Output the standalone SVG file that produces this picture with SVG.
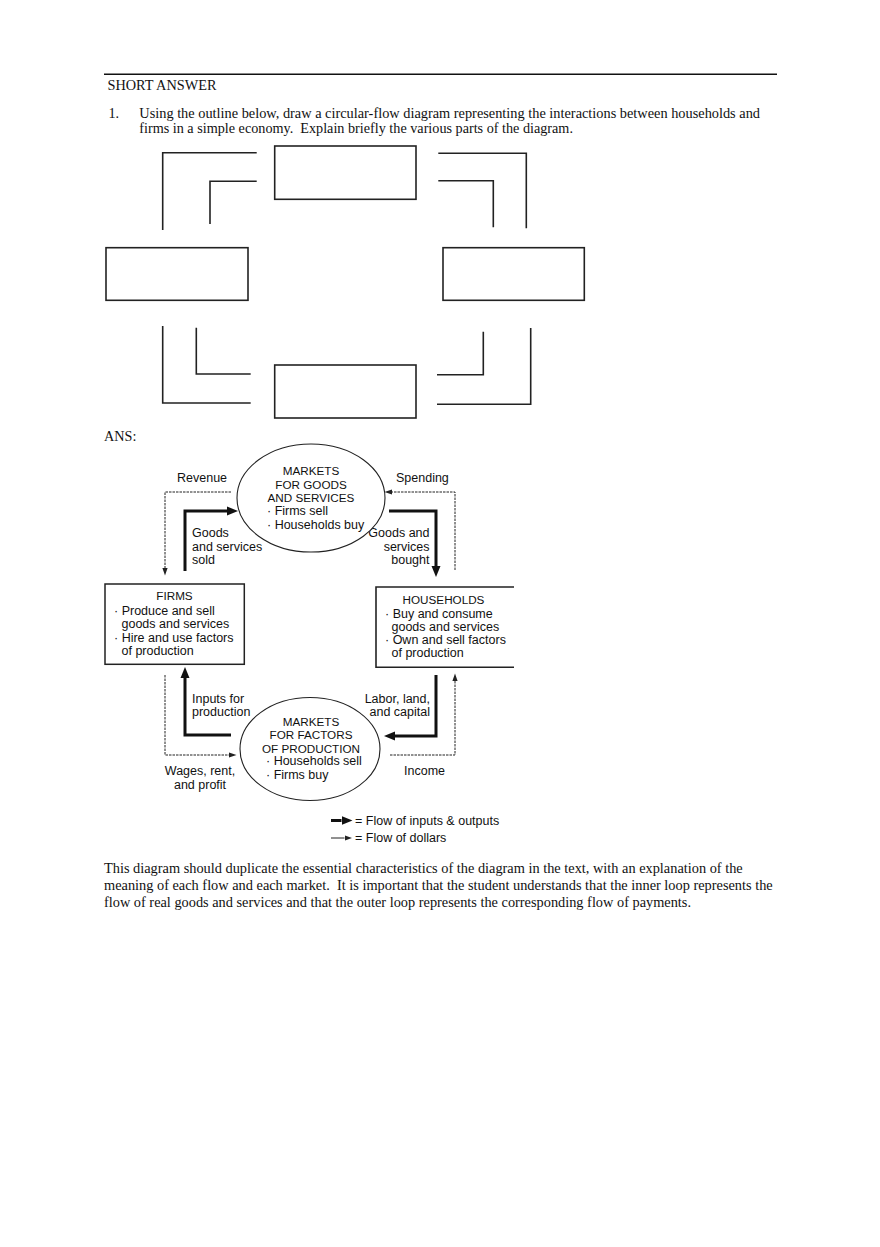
<svg xmlns="http://www.w3.org/2000/svg" width="880" height="1247" viewBox="0 0 880 1247">
<style>
.serif{font-family:"Liberation Serif","Times New Roman",serif;font-size:14.2px;fill:#111}
.sans{font-family:"Liberation Sans",Arial,sans-serif;font-size:12.5px;fill:#111}
.cap{font-size:11.7px}
.mid{text-anchor:middle}
.end{text-anchor:end}
.ol{fill:none;stroke:#222;stroke-width:1.6}
.box{fill:#fff;stroke:#222;stroke-width:1.5}
.ell{fill:#fff;stroke:#222;stroke-width:1.1}
.thick{fill:none;stroke:#111;stroke-width:3;marker-end:url(#ah)}
.thin{fill:none;stroke:#222;stroke-width:1;stroke-dasharray:2.5 1;marker-end:url(#al)}
</style>
<defs>
<marker id="ah" markerUnits="userSpaceOnUse" markerWidth="11" markerHeight="10" viewBox="0 -5 11 10" refX="0" refY="0" orient="auto">
<path d="M0,-4.5 L11,0 L0,4.5 z" fill="#111"/>
</marker>
<marker id="al" markerUnits="userSpaceOnUse" markerWidth="8" markerHeight="6" viewBox="0 -3 8 6" refX="0" refY="0" orient="auto">
<path d="M0,-2.6 L7.5,0 L0,2.6 z" fill="#222"/>
</marker>
</defs>
<rect width="880" height="1247" fill="#fff"/>

<g id="header">
<line x1="104" y1="74.3" x2="777" y2="74.3" stroke="#111" stroke-width="1.6"/>
<text class="serif" x="107.5" y="90" textLength="109" lengthAdjust="spacingAndGlyphs">SHORT ANSWER</text>
<text class="serif" x="108.5" y="118">1.</text>
<text class="serif" x="139.3" y="118" textLength="620.7" lengthAdjust="spacingAndGlyphs">Using the outline below, draw a circular-flow diagram representing the interactions between households and</text>
<text class="serif" x="139.3" y="133" xml:space="preserve">firms in a simple economy.  Explain briefly the various parts of the diagram.</text>
</g>

<g id="outline">
<rect class="ol" x="274.7" y="146" width="141.3" height="53.3"/>
<rect class="ol" x="106" y="247.7" width="142" height="52.6"/>
<rect class="ol" x="443" y="247.7" width="141.3" height="52.6"/>
<rect class="ol" x="274.7" y="365" width="141.3" height="53"/>
<path class="ol" d="M162.7,230 V152.7 H256.7"/>
<path class="ol" d="M210,224 V181.3 H256.7"/>
<path class="ol" d="M438.3,153.3 H526.3 V228.3"/>
<path class="ol" d="M438.3,180.7 H493.3 V227.3"/>
<path class="ol" d="M162.7,326 V403 H250.7"/>
<path class="ol" d="M196.3,327.7 V374 H250.7"/>
<path class="ol" d="M437,374.7 H483.3 V331.7"/>
<path class="ol" d="M437,404.3 H530.7 V328"/>
</g>

<text class="serif" x="104" y="440.5">ANS:</text>

<g id="connectors">
<path class="thick" d="M185,571 V511 H227"/>
<path class="thick" d="M389,511 H436 V566"/>
<path class="thick" d="M436,675 V736 H395"/>
<path class="thick" d="M231,735 H185 V678"/>
<path class="thin" d="M231,492 H165 V568"/>
<path class="thin" d="M455,570 V492 H392"/>
<path class="thin" d="M165,675 V755 H229"/>
<path class="thin" d="M390,755 H455 V681"/>
</g>

<g id="flow-labels">
<text class="sans" x="177" y="482">Revenue</text>
<text class="sans" x="396" y="482">Spending</text>
<text class="sans" x="192" y="537">Goods</text>
<text class="sans" x="192" y="550.5">and services</text>
<text class="sans" x="192" y="564">sold</text>
<text class="sans end" x="429.5" y="537">Goods and</text>
<text class="sans end" x="429.5" y="550.5">services</text>
<text class="sans end" x="429.5" y="564">bought</text>
<text class="sans" x="192" y="703">Inputs for</text>
<text class="sans" x="192" y="716">production</text>
<text class="sans end" x="430" y="703">Labor, land,</text>
<text class="sans end" x="430" y="716">and capital</text>
<text class="sans mid" x="200" y="775">Wages, rent,</text>
<text class="sans mid" x="200" y="788.5">and profit</text>
<text class="sans" x="404" y="775">Income</text>
</g>

<g id="market-goods">
<ellipse class="ell" cx="311" cy="498" rx="74" ry="54"/>
<text class="sans cap mid" x="311" y="475">MARKETS</text>
<text class="sans cap mid" x="311" y="488.5">FOR GOODS</text>
<text class="sans cap mid" x="311" y="502">AND SERVICES</text>
<text class="sans" x="267" y="515">· Firms sell</text>
<text class="sans" x="267" y="528.5">· Households buy</text>
</g>

<g id="firms">
<rect class="box" x="105" y="584" width="139.3" height="80.3"/>
<text class="sans cap mid" x="174.5" y="600">FIRMS</text>
<text class="sans" x="114" y="615">· Produce and sell</text>
<text class="sans" x="121.5" y="628.3">goods and services</text>
<text class="sans" x="114" y="641.6">· Hire and use factors</text>
<text class="sans" x="121.5" y="655">of production</text>
</g>

<g id="households">
<path d="M514,587 H376 V667.3 H514" fill="#fff" stroke="#222" stroke-width="1.6"/>
<text class="sans cap mid" x="443.5" y="604">HOUSEHOLDS</text>
<text class="sans" x="385" y="617.5">· Buy and consume</text>
<text class="sans" x="391.5" y="630.8">goods and services</text>
<text class="sans" x="385" y="644">· Own and sell factors</text>
<text class="sans" x="391.5" y="657.3">of production</text>
</g>

<g id="market-factors">
<ellipse class="ell" cx="310" cy="749" rx="70" ry="51.5"/>
<text class="sans cap mid" x="311" y="726">MARKETS</text>
<text class="sans cap mid" x="311" y="739.3">FOR FACTORS</text>
<text class="sans cap mid" x="311" y="752.6">OF PRODUCTION</text>
<text class="sans" x="266" y="765">· Households sell</text>
<text class="sans" x="266" y="778.5">· Firms buy</text>
</g>

<g id="legend">
<path d="M331,820.5 H341.5" fill="none" stroke="#111" stroke-width="3" marker-end="url(#ah)"/>
<text class="sans" x="355" y="824.5">= Flow of inputs &amp; outputs</text>
<path d="M331,838 H344.5" fill="none" stroke="#222" stroke-width="1" marker-end="url(#al)"/>
<text class="sans" x="355" y="842">= Flow of dollars</text>
</g>

<g id="explanation">
<text class="serif" x="104" y="873.3" textLength="638.7" lengthAdjust="spacingAndGlyphs">This diagram should duplicate the essential characteristics of the diagram in the text, with an explanation of the</text>
<text class="serif" x="104" y="890" textLength="668.7" lengthAdjust="spacingAndGlyphs" xml:space="preserve">meaning of each flow and each market.  It is important that the student understands that the inner loop represents the</text>
<text class="serif" x="104" y="906.7" textLength="587" lengthAdjust="spacingAndGlyphs">flow of real goods and services and that the outer loop represents the corresponding flow of payments.</text>
</g>
</svg>
